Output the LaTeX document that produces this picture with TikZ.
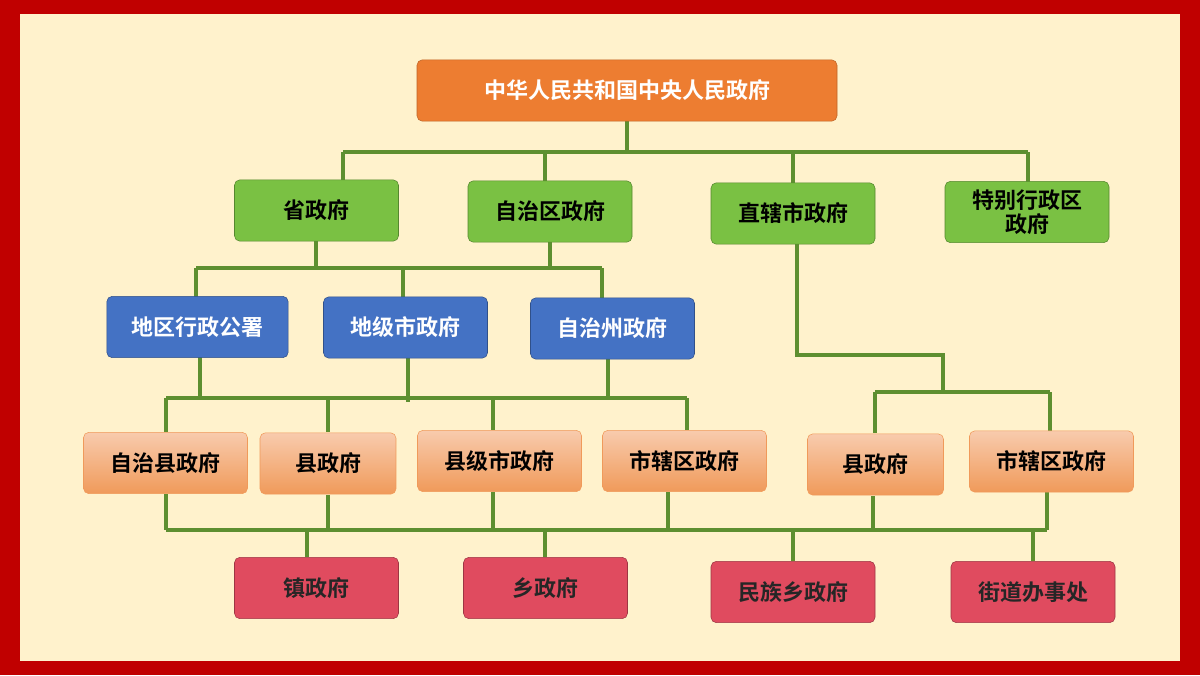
\documentclass[tikz,border=0pt]{standalone}
\usepackage{fontspec}
\setmainfont{Noto Sans CJK SC}[BoldFont={Noto Sans CJK SC Bold}]
\definecolor{frame}{HTML}{C00000}
\definecolor{cream}{HTML}{FFF2CC}
\definecolor{topo}{HTML}{ED7D31}
\definecolor{grn}{HTML}{7AC143}
\definecolor{blu}{HTML}{4472C4}
\definecolor{lo1}{HTML}{F8CBAD}
\definecolor{lo2}{HTML}{F09A5A}
\definecolor{rd}{HTML}{E04B5F}
\definecolor{ln}{HTML}{5E8F30}
\tikzset{
 bx/.style={rounded corners=4pt, minimum width=123pt, minimum height=46pt, font=\bfseries\fontsize{16.5}{18}\selectfont, align=center, inner sep=0pt},
 gb/.style={bx, fill=grn, draw=grn!70!black, text=black},
 bb/.style={bx, fill=blu, draw=blu!70!black, text=white},
 ob/.style={bx, top color=lo1, bottom color=lo2, draw=lo2, text=black},
 rb/.style={bx, fill=rd, draw=rd!70!black, text=black!85},
 cn/.style={draw=ln, line width=2.6pt}
}
\begin{document}
\begin{tikzpicture}[x=0.75pt,y=-0.75pt]
\fill[frame] (0,0) rectangle (1200,675);
\fill[cream] (20,14) rectangle (1180,661);
% connectors first (behind boxes)
\coordinate (j1) at (627,152);
\draw[cn] (627,121) -- (j1);
\draw[cn] (343,152) -- (1028,152);
\draw[cn] (343,152) -- (343,181);
\draw[cn] (545,152) -- (545,182);
\draw[cn] (793,152) -- (793,184);
\draw[cn] (1028,152) -- (1028,182);
\draw[cn] (316,241) -- (316,268);
\draw[cn] (550,242) -- (550,268);
\draw[cn] (196,268) -- (602,268);
\draw[cn] (196,268) -- (196,298);
\draw[cn] (403,268) -- (403,298);
\draw[cn] (602,268) -- (602,299);
\draw[cn] (200,357) -- (200,398);
\draw[cn] (408,358) -- (408,402);
\draw[cn] (608,359) -- (608,398);
\draw[cn] (166,398) -- (687,398);
\draw[cn] (166,398) -- (166,432);
\draw[cn] (328,398) -- (328,432);
\draw[cn] (493,398) -- (493,430);
\draw[cn] (687,398) -- (687,430);
\draw[cn] (797,244) -- (797,355) -- (943,355) -- (943,392);
\draw[cn] (875,392) -- (1050,392);
\draw[cn] (875,392) -- (875,433);
\draw[cn] (1050,392) -- (1050,431);
\draw[cn] (166,494) -- (166,530);
\draw[cn] (328,495) -- (328,530);
\draw[cn] (493,492) -- (493,530);
\draw[cn] (668,492) -- (668,530);
\draw[cn] (873,496) -- (873,530);
\draw[cn] (1047,492) -- (1047,530);
\draw[cn] (166,530) -- (1047,530);
\draw[cn] (307,530) -- (307,557);
\draw[cn] (545,530) -- (545,557);
\draw[cn] (793,530) -- (793,561);
\draw[cn] (1033,530) -- (1033,561);
% boxes
\node[bx, fill=topo, draw=topo!80!black, text=white, minimum width=315pt] (top) at (627,90.5) {中华人民共和国中央人民政府};
\node[gb] (s1) at (316.5,210.5) {省政府};
\node[gb] (s2) at (550,211.5) {自治区政府};
\node[gb] (s3) at (793,213.5) {直辖市政府};
\node[gb] (s4) at (1027,212) {特别行政区\\政府};
\node[bb, minimum width=136pt] (b1) at (197.5,327) {地区行政公署};
\node[bb] (b2) at (405.5,327.5) {地级市政府};
\node[bb] (b3) at (612.5,328.5) {自治州政府};
\node[ob] (o1) at (165.5,463) {自治县政府};
\node[ob, minimum width=102pt] (o2) at (328,463.5) {县政府};
\node[ob] (o3) at (499.5,461) {县级市政府};
\node[ob] (o4) at (684.5,461) {市辖区政府};
\node[ob, minimum width=102pt] (o5) at (875.5,464.5) {县政府};
\node[ob] (o6) at (1051.5,461.5) {市辖区政府};
\node[rb] (r1) at (316.5,588) {镇政府};
\node[rb] (r2) at (545.5,588) {乡政府};
\node[rb] (r3) at (793,592) {民族乡政府};
\node[rb] (r4) at (1033,592) {街道办事处};
\end{tikzpicture}
\end{document}
